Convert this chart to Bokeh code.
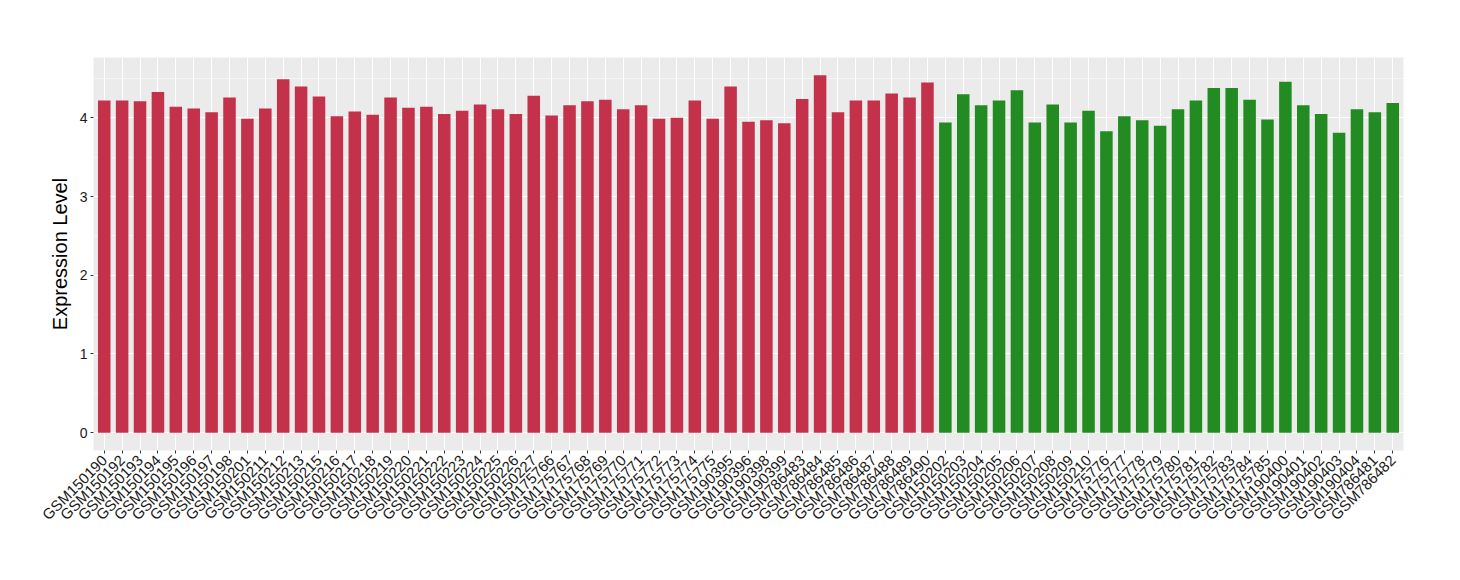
import math
from bokeh.plotting import figure
from bokeh.models import ColumnDataSource, FactorRange, Range1d, SingleIntervalTicker
from bokeh.embed import file_html
from bokeh.resources import INLINE

# ---- data ----
red_samples = [
    "GSM150190", "GSM150192", "GSM150193", "GSM150194", "GSM150195", "GSM150196",
    "GSM150197", "GSM150198", "GSM150201", "GSM150211", "GSM150212", "GSM150213",
    "GSM150215", "GSM150216", "GSM150217", "GSM150218", "GSM150219", "GSM150220",
    "GSM150221", "GSM150222", "GSM150223", "GSM150224", "GSM150225", "GSM150226",
    "GSM150227", "GSM175766", "GSM175767", "GSM175768", "GSM175769", "GSM175770",
    "GSM175771", "GSM175772", "GSM175773", "GSM175774", "GSM175775", "GSM190395",
    "GSM190396", "GSM190398", "GSM190399", "GSM786483", "GSM786484", "GSM786485",
    "GSM786486", "GSM786487", "GSM786488", "GSM786489", "GSM786490",
]
red_values = [
    4.22, 4.22, 4.21, 4.33, 4.14, 4.12, 4.07, 4.26, 3.99, 4.12, 4.49, 4.40,
    4.27, 4.02, 4.08, 4.04, 4.26, 4.13, 4.14, 4.05, 4.09, 4.17, 4.11, 4.05,
    4.28, 4.03, 4.16, 4.21, 4.23, 4.11, 4.16, 3.99, 4.00, 4.22, 3.99, 4.40,
    3.95, 3.97, 3.93, 4.24, 4.54, 4.07, 4.22, 4.22, 4.31, 4.26, 4.45,
]
green_samples = [
    "GSM150202", "GSM150203", "GSM150204", "GSM150205", "GSM150206", "GSM150207",
    "GSM150208", "GSM150209", "GSM150210", "GSM175776", "GSM175777", "GSM175778",
    "GSM175779", "GSM175780", "GSM175781", "GSM175782", "GSM175783", "GSM175784",
    "GSM175785", "GSM190400", "GSM190401", "GSM190402", "GSM190403", "GSM190404",
    "GSM786481", "GSM786482",
]
green_values = [
    3.94, 4.30, 4.16, 4.22, 4.35, 3.94, 4.17, 3.94, 4.09, 3.83, 4.02, 3.97,
    3.90, 4.11, 4.22, 4.38, 4.38, 4.23, 3.98, 4.46, 4.16, 4.05, 3.81, 4.11,
    4.07, 4.19,
]
y_ticks = [0, 1, 2, 3, 4]
y_label = "Expression Level"

RED = "#C3314A"
GREEN = "#228B22"

samples = red_samples + green_samples
values = red_values + green_values
colors = [RED] * len(red_samples) + [GREEN] * len(green_samples)

vmax = max(values)
expand = 0.05 * vmax

p = figure(
    width=1452, height=572,
    x_range=FactorRange(*samples, range_padding=0.1, range_padding_units="absolute"),
    y_range=Range1d(-expand, vmax + expand),
    output_backend="svg", toolbar_location=None,
    min_border_left=93, min_border_right=49, min_border_top=57, min_border_bottom=122,
)

src = ColumnDataSource(dict(x=samples, top=values, color=colors))
p.vbar(x="x", top="top", width=0.7, bottom=0, fill_color="color", line_color=None, source=src)

p.background_fill_color = "#EBEBEB"
p.border_fill_color = "white"
p.outline_line_color = None

FONT = "Liberation Sans"

# grid
p.xgrid.grid_line_color = "white"
p.xgrid.grid_line_width = 1.1
p.ygrid.grid_line_color = "white"
p.ygrid.grid_line_width = 1.1
p.ygrid.minor_grid_line_color = "white"
p.ygrid.minor_grid_line_width = 0.5

# y axis
p.yaxis.ticker = SingleIntervalTicker(interval=1, num_minor_ticks=2)
p.yaxis.axis_line_color = None
p.yaxis.major_tick_line_color = "#333333"
p.yaxis.major_tick_in = 0
p.yaxis.major_tick_out = 3
p.yaxis.minor_tick_line_color = None
p.yaxis.major_label_text_font = FONT
p.yaxis.major_label_text_font_size = "14px"
p.yaxis.major_label_text_color = "#1a1a1a"
p.yaxis.major_label_standoff = 2
p.yaxis.axis_label = y_label
p.yaxis.axis_label_text_font = FONT
p.yaxis.axis_label_text_font_size = "20px"
p.yaxis.axis_label_text_font_style = "normal"
p.yaxis.axis_label_text_color = "black"
p.yaxis.axis_label_standoff = 6

# x axis
p.xaxis.axis_line_color = None
p.xaxis.major_tick_line_color = "#333333"
p.xaxis.major_tick_in = 0
p.xaxis.major_tick_out = 3
p.xaxis.major_label_orientation = math.pi / 4
p.xaxis.major_label_text_font = FONT
p.xaxis.major_label_text_font_size = "15px"
p.xaxis.major_label_text_color = "#1a1a1a"
p.xaxis.major_label_standoff = 4

open("out.html", "w").write(file_html(p, INLINE))
